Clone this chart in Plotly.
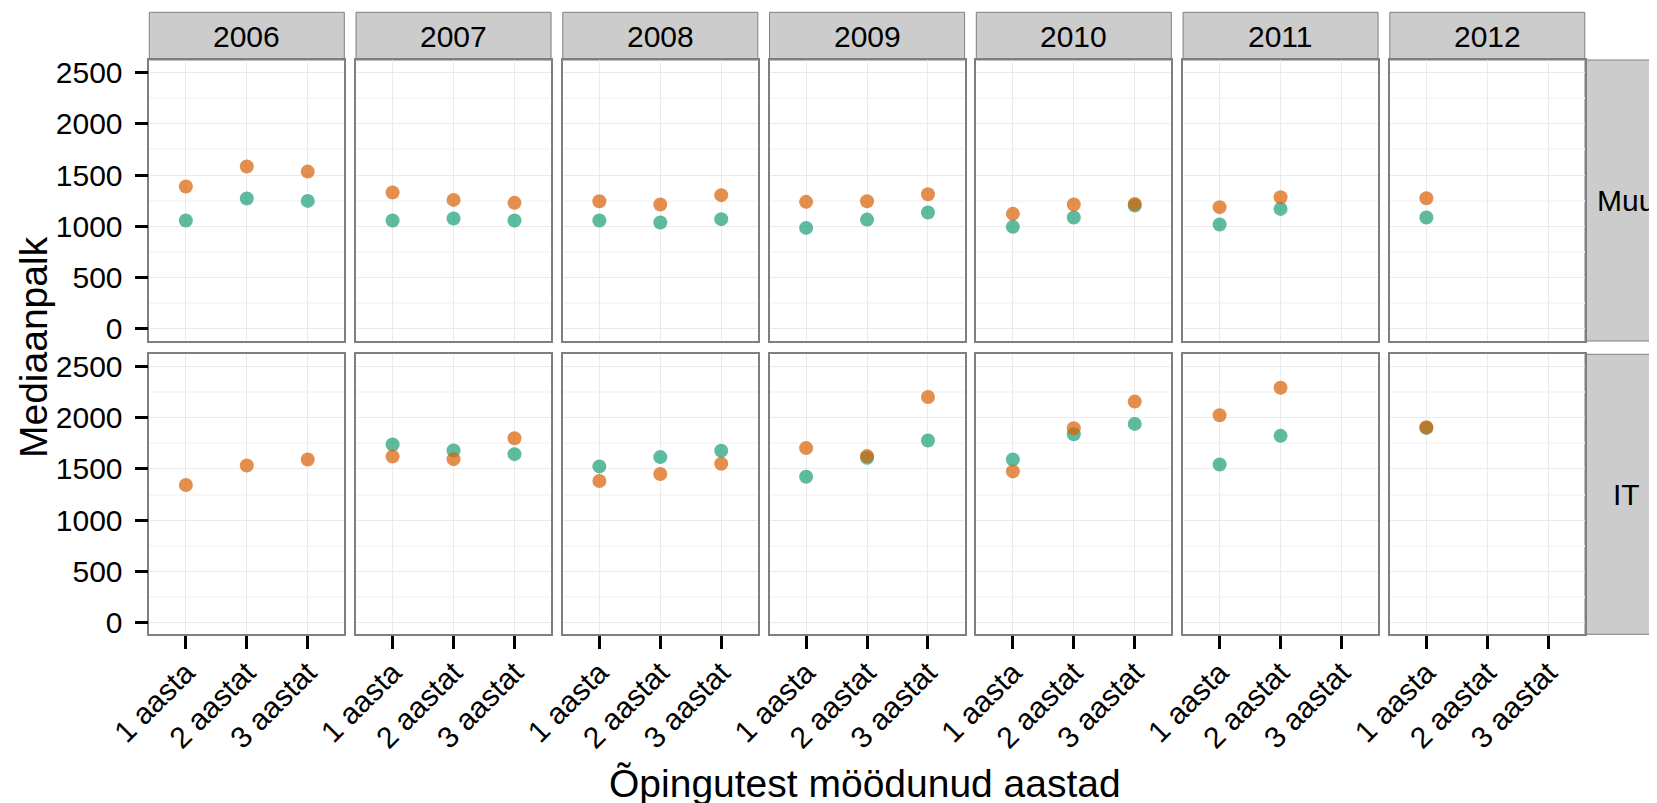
import plotly.graph_objects as go

years = ["2006", "2007", "2008", "2009", "2010", "2011", "2012"]
periods = ["1 aasta", "2 aastat", "3 aastat"]
row_names = ["Muu", "IT"]

# median pay per year facet, values for 1/2/3 years after studies
muu_teal = [[1057, 1271, 1248], [1057, 1076, 1057], [1057, 1037, 1070], [985, 1066, 1135],
            [995, 1086, 1203], [1018, 1170, None], [1086, None, None]]
muu_orange = [[1388, 1583, 1534], [1330, 1258, 1229], [1245, 1213, 1304], [1239, 1245, 1313],
              [1122, 1213, 1219], [1187, 1284, None], [1274, None, None]]
it_teal = [[None, None, None], [1739, 1681, 1645], [1525, 1616, 1678], [1424, 1609, 1778],
           [1593, 1840, 1941], [1544, 1824, None], [1902, None, None]]
it_orange = [[1343, 1534, 1593], [1622, 1596, 1801], [1382, 1450, 1551], [1704, 1626, 2204],
             [1476, 1899, 2159], [2025, 2295, None], [1908, None, None]]

y_ticks = [0, 500, 1000, 1500, 2000, 2500]

W, H = 1657, 803
OFF = 8  # page body margin shifts the figure, positions below are in screen pixels
FONT = "Liberation Sans, Arial, sans-serif"
TEAL = "rgba(27,158,119,0.7)"
ORANGE = "rgba(217,95,2,0.7)"
BORDER = "#7F7F7F"
TICK_SIZE = 30
TITLE_SIZE = 39


def px(v):
    return (v - OFF) / W


def py(v):
    return 1 - (v - OFF) / H


col_left0, col_pitch, col_w = 149.3, 206.75, 195.0
row_px = [(60.0, 341.0), (354.3, 634.3)]
strip_top = 12.3

fig = go.Figure()
series = [(muu_teal, muu_orange), (it_teal, it_orange)]
shapes = []
annotations = []

for r, (teal, orange) in enumerate(series):
    top, bot = row_px[r]
    for c, yr in enumerate(years):
        k = r * 7 + c + 1
        sfx = "" if k == 1 else str(k)
        left = col_left0 + c * col_pitch
        right = left + col_w

        fig.add_trace(go.Scatter(
            x=periods, y=teal[c], mode="markers", name="rühm 1",
            marker=dict(color=TEAL, size=14, line=dict(width=0)),
            xaxis="x" + sfx, yaxis="y" + sfx, showlegend=False,
        ))
        fig.add_trace(go.Scatter(
            x=periods, y=orange[c], mode="markers", name="rühm 2",
            marker=dict(color=ORANGE, size=14, line=dict(width=0)),
            xaxis="x" + sfx, yaxis="y" + sfx, showlegend=False,
        ))

        fig.layout["xaxis" + sfx] = dict(
            domain=[px(left), px(right)], anchor="y" + sfx, automargin=False,
            type="category", categoryorder="array", categoryarray=periods,
            range=[-0.6, 2.6], showgrid=True, gridcolor="#EBEBEB", gridwidth=1,
            showline=True, mirror=True, linecolor=BORDER, linewidth=1.5, zeroline=False,
            ticks="outside" if r == 1 else "", ticklen=13, tickwidth=2.5, tickcolor="black",
            showticklabels=(r == 1), tickangle=-45, ticklabelstandoff=-6,
            tickfont=dict(family=FONT, size=TICK_SIZE, color="black"),
        )
        fig.layout["yaxis" + sfx] = dict(
            domain=[py(bot), py(top)], anchor="x" + sfx, automargin=False,
            range=[-118, 2622], tickvals=y_ticks,
            showgrid=True, gridcolor="#EBEBEB", gridwidth=1,
            minor=dict(tickmode="linear", tick0=250, dtick=500, showgrid=True,
                       gridcolor="#F7F7F7", gridwidth=2, ticks=""),
            showline=True, mirror=True, linecolor=BORDER, linewidth=1.5, zeroline=False,
            ticks="outside" if c == 0 else "", ticklen=13, tickwidth=2.5, tickcolor="black",
            showticklabels=(c == 0), ticklabelstandoff=6,
            tickfont=dict(family=FONT, size=TICK_SIZE, color="black"),
        )

        if r == 0:
            shapes.append(dict(type="rect", xref="paper", yref="paper",
                               x0=px(left), x1=px(right), y0=py(top), y1=py(strip_top),
                               fillcolor="#CCCCCC", line=dict(color=BORDER, width=1), layer="below"))
            annotations.append(dict(text=yr, xref="paper", yref="paper",
                                    x=px((left + right) / 2), y=py((top + strip_top) / 2),
                                    xanchor="center", yanchor="middle", showarrow=False,
                                    font=dict(family=FONT, size=TICK_SIZE, color="black")))

    shapes.append(dict(type="rect", xref="paper", yref="paper",
                       x0=px(1585), x1=1.02, y0=py(bot), y1=py(top),
                       fillcolor="#CCCCCC", line=dict(color=BORDER, width=1), layer="below"))
    annotations.append(dict(text=row_names[r], xref="paper", yref="paper",
                            x=px(1626), y=py((top + bot) / 2),
                            xanchor="center", yanchor="middle", showarrow=False,
                            font=dict(family=FONT, size=TICK_SIZE, color="black")))

annotations.append(dict(text="Õpingutest möödunud aastad", xref="paper", yref="paper",
                        x=px(865), y=py(783), xanchor="center", yanchor="middle",
                        showarrow=False, font=dict(family=FONT, size=TITLE_SIZE, color="black")))
annotations.append(dict(text="Mediaanpalk", xref="paper", yref="paper",
                        x=px(33), y=py(347), xanchor="center", yanchor="middle",
                        showarrow=False, textangle=-90,
                        font=dict(family=FONT, size=TITLE_SIZE, color="black")))

fig.update_layout(
    template="none",
    width=W, height=H, margin=dict(l=0, r=0, t=0, b=0, pad=0),
    paper_bgcolor="white", plot_bgcolor="white",
    shapes=shapes, annotations=annotations, showlegend=False,
)

fig.write_html("out.html")
